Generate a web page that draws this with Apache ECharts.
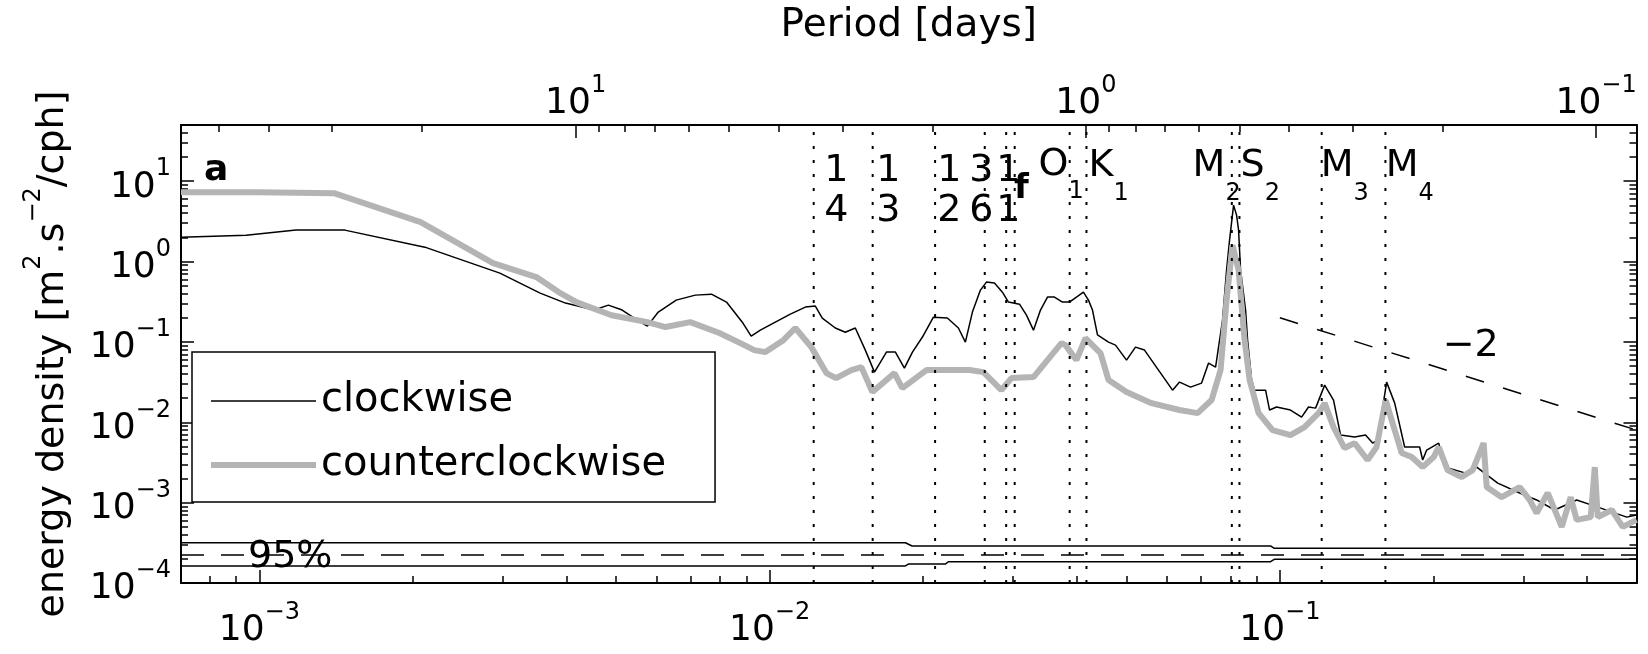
<!DOCTYPE html>
<html><head><meta charset="utf-8">
<script src="https://cdn.jsdelivr.net/npm/echarts@6/dist/echarts.min.js"></script>
<style>html,body{margin:0;padding:0;background:#fff}#c{width:1648px;height:654px}</style>
</head><body><div id="c"></div>
<script>
const FONT = 'DejaVu Sans';
// ---- axis ranges & tick values ----
const freqMin = 7.02e-4, freqMax = 0.5;          // cph
const energyMin = 1e-4, energyMax = 50;
const freqMajor = [1e-3, 1e-2, 1e-1];
const freqMinor = [8e-4, 9e-4, 2e-3, 3e-3, 4e-3, 5e-3, 6e-3, 7e-3, 8e-3, 9e-3,
  2e-2, 3e-2, 4e-2, 5e-2, 6e-2, 7e-2, 8e-2, 9e-2, 0.2, 0.3, 0.4];
const periodMajor = [10, 1, 0.1];                 // days
const periodMinor = [50, 40, 30, 20, 9, 8, 7, 6, 5, 4, 3, 2, 0.9, 0.8, 0.7, 0.6, 0.5, 0.4, 0.3, 0.2];
const energyMajor = [1e-4, 1e-3, 1e-2, 1e-1, 1, 10];
const energyMinor = [2e-4, 3e-4, 4e-4, 5e-4, 6e-4, 7e-4, 8e-4, 9e-4,
  2e-3, 3e-3, 4e-3, 5e-3, 6e-3, 7e-3, 8e-3, 9e-3,
  2e-2, 3e-2, 4e-2, 5e-2, 6e-2, 7e-2, 8e-2, 9e-2,
  0.2, 0.3, 0.4, 0.5, 0.6, 0.7, 0.8, 0.9, 2, 3, 4, 5, 6, 7, 8, 9, 20, 30, 40];

// ---- spectra ----
const cwFreq = [7.02e-4, 9.42e-4, 1.18e-3, 1.47e-3, 2.11e-3, 2.96e-3, 3.55e-3, 3.98e-3, 4.53e-3, 4.83e-3,
  5.14e-3, 5.58e-3, 5.76e-3, 6.05e-3, 6.56e-3, 7.15e-3, 7.69e-3, 8.23e-3, 8.84e-3, 9.20e-3,
  9.59e-3, 1.026e-2, 1.098e-2, 1.175e-2, 1.229e-2, 1.268e-2, 1.345e-2, 1.407e-2, 1.472e-2, 1.540e-2,
  1.605e-2, 1.649e-2, 1.694e-2, 1.764e-2, 1.837e-2, 1.905e-2, 1.993e-2, 2.094e-2, 2.230e-2, 2.344e-2,
  2.419e-2, 2.497e-2, 2.589e-2, 2.660e-2, 2.758e-2, 2.859e-2, 2.938e-2, 3.088e-2, 3.187e-2, 3.289e-2,
  3.395e-2, 3.504e-2, 3.616e-2, 3.749e-2, 3.869e-2, 3.993e-2, 4.121e-2, 4.216e-2, 4.293e-2, 4.391e-2,
  4.615e-2, 4.763e-2, 5.006e-2, 5.212e-2, 5.429e-2, 5.783e-2, 6.161e-2, 6.359e-2, 6.683e-2, 7.024e-2,
  7.249e-2, 7.482e-2, 7.721e-2, 7.862e-2, 7.969e-2, 8.115e-2, 8.226e-2, 8.300e-2, 8.375e-2, 8.567e-2,
  8.645e-2, 8.803e-2, 8.923e-2, 9.376e-2, 9.546e-2, 9.851e-2, 0.1049, 0.1103, 0.1138, 0.1175,
  0.1224, 0.1274, 0.1315, 0.1401, 0.1472, 0.1520, 0.1554, 0.1619, 0.1679, 0.1756,
  0.1879, 0.1905, 0.1940, 0.2048, 0.2104, 0.2313, 0.2431, 0.2673, 0.2951, 0.3186,
  0.3456, 0.3817, 0.4198, 0.4785, 0.5];
const cwEnergy = [2.01, 2.13, 2.46, 2.46, 1.51, 0.718, 0.404, 0.304, 0.249, 0.287,
  0.249, 0.176, 0.157, 0.235, 0.331, 0.382, 0.393, 0.313, 0.176, 0.118,
  0.140, 0.176, 0.222, 0.271, 0.279, 0.198, 0.149, 0.132, 0.149, 0.0791,
  0.0421, 0.0561, 0.0747, 0.0747, 0.0472, 0.0747, 0.115, 0.203, 0.198, 0.149,
  0.0995, 0.235, 0.441, 0.555, 0.539, 0.416, 0.313, 0.295, 0.215, 0.140,
  0.249, 0.361, 0.361, 0.313, 0.313, 0.361, 0.416, 0.331, 0.249, 0.122,
  0.0995, 0.0912, 0.0594, 0.0861, 0.0791, 0.0446, 0.0251, 0.0316, 0.0274, 0.0307,
  0.0545, 0.0486, 0.187, 0.782, 1.85, 5.03, 3.78, 2.46, 0.782, 0.249,
  0.105, 0.0335, 0.0251, 0.0251, 0.0142, 0.0155, 0.0142, 0.0116, 0.0155, 0.0150,
  0.0290, 0.0189, 0.00693, 0.00655, 0.00693, 0.00551, 0.00601, 0.0316, 0.0173, 0.00492,
  0.00492, 0.00339, 0.00451, 0.00551, 0.00277, 0.00233, 0.00277, 0.00175, 0.00132, 0.00108,
  0.00081, 0.00108, 0.00088, 0.00066, 0.00070];
const ccwFreq = [7.02e-4, 9.9e-4, 1.40e-3, 2.07e-3, 2.87e-3, 3.49e-3, 3.89e-3, 4.18e-3, 4.90e-3, 5.76e-3,
  6.25e-3, 6.99e-3, 7.97e-3, 8.76e-3, 9.33e-3, 9.81e-3, 1.064e-2, 1.123e-2, 1.207e-2, 1.292e-2,
  1.35e-2, 1.446e-2, 1.513e-2, 1.590e-2, 1.756e-2, 1.820e-2, 2.029e-2, 2.463e-2, 2.624e-2, 2.846e-2,
  2.978e-2, 3.289e-2, 3.732e-2, 3.800e-2, 3.993e-2, 4.159e-2, 4.451e-2, 4.615e-2, 5.006e-2, 5.603e-2,
  6.359e-2, 6.898e-2, 7.348e-2, 7.652e-2, 7.862e-2, 8.078e-2, 8.300e-2, 8.528e-2, 8.724e-2, 9.086e-2,
  9.676e-2, 0.1049, 0.1118, 0.1196, 0.1224, 0.1274, 0.1339, 0.1401, 0.1486, 0.1547,
  0.1612, 0.1679, 0.1733, 0.1813, 0.1905, 0.2002, 0.2048, 0.2132, 0.2272, 0.2387,
  0.2508, 0.2543, 0.2721, 0.2951, 0.3087, 0.3186, 0.3349, 0.3568, 0.3715, 0.3817,
  0.4067, 0.4142, 0.4198, 0.4472, 0.4699, 0.5];
const ccwEnergy = [7.3, 7.3, 7.1, 3.09, 0.955, 0.64, 0.404, 0.313, 0.215, 0.176,
  0.153, 0.176, 0.129, 0.0966, 0.0791, 0.0747, 0.105, 0.149, 0.0861, 0.0409,
  0.0355, 0.0446, 0.0486, 0.0238, 0.0409, 0.0266, 0.0446, 0.0446, 0.0421, 0.0251,
  0.0355, 0.0365, 0.0966, 0.0912, 0.0594, 0.111, 0.0726, 0.0335, 0.0238, 0.0173,
  0.0142, 0.0130, 0.0189, 0.0446, 0.331, 1.60, 0.782, 0.105, 0.0335, 0.0130,
  0.0080, 0.00693, 0.00871, 0.0134, 0.0173, 0.00871, 0.00478, 0.00551, 0.00339, 0.00492,
  0.0189, 0.0080, 0.00414, 0.00369, 0.00277, 0.00369, 0.00492, 0.00254, 0.00208, 0.00254,
  0.00551, 0.00156, 0.00117, 0.00156, 0.00108, 0.00074, 0.00132, 0.00050, 0.00117, 0.00061,
  0.00066, 0.00277, 0.00066, 0.00081, 0.00050, 0.00061];

// ---- 95% confidence band ----
const ciUpperFreq = [7.02e-4, 0.01845, 0.01902, 0.0959, 0.0975, 0.5];
const ciUpperEnergy = [3.17e-4, 3.17e-4, 2.89e-4, 2.89e-4, 2.70e-4, 2.70e-4];
const ciMidFreq = [7.02e-4, 0.5];
const ciMidEnergy = [2.23e-4, 2.23e-4];
const ciLowerFreq = [7.02e-4, 0.01845, 0.0187, 0.0221, 0.0224, 0.0959, 0.0975, 0.5];
const ciLowerEnergy = [1.63e-4, 1.63e-4, 1.72e-4, 1.72e-4, 1.84e-4, 1.84e-4, 1.97e-4, 1.97e-4];

// ---- -2 slope reference ----
const slopeFreq = [0.1, 0.5];
const slopeEnergy = [0.2, 0.008];

// ---- marked frequencies (cph) ----
const markerFreq = [0.0122, 0.01592, 0.0211, 0.0264, 0.02908, 0.03022,
  0.03873, 0.04178, 0.08051, 0.08333, 0.12077, 0.16102];

// ---- annotations ----
const tideLabels = [
  {main: 'O', sub: '1', freq: 0.03365, energy: 11.9},
  {main: 'K', sub: '1', freq: 0.04217, energy: 11.5},
  {main: 'M', sub: '2', freq: 0.06745, energy: 11.5},
  {main: 'S', sub: '2', freq: 0.08375, energy: 11.5},
  {main: 'M', sub: '3', freq: 0.1202, energy: 11.5},
  {main: 'M', sub: '4', freq: 0.1612, energy: 11.5}];
const fracLabels = [
  {top: '1', bottom: '4', freq: 0.01351, energy: 7.51},
  {top: '1', bottom: '3', freq: 0.01709, energy: 7.51},
  {top: '1', bottom: '2', freq: 0.02250, energy: 7.51},
  {top: '3', bottom: '6', freq: 0.02601, energy: 7.51},
  {top: '1', bottom: '1', freq: 0.02938, energy: 7.51}];
const inertialLabel = {text: 'f', freq: 0.03115, energy: 7.94};
const panelLabel = {text: 'a', freq: 7.79e-4, energy: 13.7};
const slopeLabel = {text: '\u22122', freq: 0.2366, energy: 0.0887};
const ciLabel = {text: '95%', freq: 1.149e-3, energy: 2.10e-4};

// ---------------------------------------------------------
const pairs = (xs, ys) => xs.map((x, i) => [x, ys[i]]);
const powRich = {
  b: {fontFamily: FONT, fontSize: 36, lineHeight: 48, verticalAlign: 'bottom', color: '#000'},
  s: {fontFamily: FONT, fontSize: 24, verticalAlign: 'top', color: '#000'}
};
function powLabel(v) {
  const e = Math.round(Math.log10(v));
  return '{b|10}{s|' + (e < 0 ? '\u2212' + (-e) : String(e)) + '}';
}
const frame = {show: true, onZero: false, lineStyle: {color: '#000', width: 2}};
const noLine = {show: false, onZero: false};
const periodMin = 1 / (24 * freqMax), periodMax = 1 / (24 * freqMin);

function axisBase(min, max, extra) {
  return Object.assign({
    type: 'log', logBase: 10, min: min, max: max,
    splitLine: {show: false}, minorTick: {show: false}, minorSplitLine: {show: false}
  }, extra);
}
function ticks(values, len) {
  return {show: true, inside: true, length: len, customValues: values, lineStyle: {color: '#000', width: 1.5}};
}

const xAxis = [
  axisBase(freqMin, freqMax, {position: 'bottom', axisLine: frame, axisTick: ticks(freqMajor, 13),
    axisLabel: {show: true, customValues: freqMajor, margin: 18, color: '#000', formatter: powLabel, rich: powRich}}),
  axisBase(freqMin, freqMax, {position: 'bottom', axisLine: noLine, axisTick: ticks(freqMinor, 7),
    axisLabel: {show: false}}),
  axisBase(periodMin, periodMax, {position: 'top', inverse: true, axisLine: frame, axisTick: ticks(periodMajor, 13),
    axisLabel: {show: true, customValues: periodMajor, margin: 3, color: '#000', formatter: powLabel, rich: powRich},
    name: 'Period [days]', nameLocation: 'middle', nameGap: 80,
    nameTextStyle: {fontFamily: FONT, fontSize: 39, color: '#000'}}),
  axisBase(periodMin, periodMax, {position: 'top', inverse: true, axisLine: noLine, axisTick: ticks(periodMinor, 7),
    axisLabel: {show: false}})
];
const yAxis = [
  axisBase(energyMin, energyMax, {position: 'left', axisLine: frame, axisTick: ticks(energyMajor, 13),
    axisLabel: {show: true, customValues: energyMajor, margin: 10, color: '#000', formatter: powLabel, rich: powRich},
    name: '{t|energy density [m}{u|2}{t|.s}{u|\u22122}{t|/cph]}', nameLocation: 'middle', nameGap: 109,
    nameTextStyle: {color: '#000', rich: {
      t: {fontFamily: FONT, fontSize: 38, lineHeight: 50, verticalAlign: 'bottom', color: '#000'},
      u: {fontFamily: FONT, fontSize: 24, verticalAlign: 'top', color: '#000'}}}}),
  axisBase(energyMin, energyMax, {position: 'left', axisLine: noLine, axisTick: ticks(energyMinor, 7),
    axisLabel: {show: false}}),
  axisBase(energyMin, energyMax, {position: 'right', axisLine: frame, axisTick: ticks(energyMajor, 13),
    axisLabel: {show: false}}),
  axisBase(energyMin, energyMax, {position: 'right', axisLine: noLine, axisTick: ticks(energyMinor, 7),
    axisLabel: {show: false}})
];

const blackText = {color: '#000', opacity: 1, textBorderWidth: 0, textShadowBlur: 0};
const thin = {color: '#000', width: 1.5};
const markerSeries = markerFreq.map(f => ({
  type: 'line', name: 'marker', data: [[f, energyMin], [f, energyMax]], symbol: 'none', silent: true, z: 6,
  lineStyle: {color: '#000', width: 2, type: [3, 11]}
}));
const series = [
  {type: 'line', name: 'ci-upper', data: pairs(ciUpperFreq, ciUpperEnergy), symbol: 'none', lineStyle: thin, silent: true, z: 2},
  {type: 'line', name: 'ci-mid', data: pairs(ciMidFreq, ciMidEnergy), symbol: 'none',
    lineStyle: {color: '#000', width: 1.5, type: [23, 17]}, silent: true, z: 2},
  {type: 'line', name: 'ci-lower', data: pairs(ciLowerFreq, ciLowerEnergy), symbol: 'none', lineStyle: thin, silent: true, z: 2},
  {type: 'line', name: 'clockwise', data: pairs(cwFreq, cwEnergy), symbol: 'none',
    lineStyle: {color: '#000', width: 1.5}, itemStyle: {color: '#000'}, z: 3},
  {type: 'line', name: 'counterclockwise', data: pairs(ccwFreq, ccwEnergy), symbol: 'none',
    lineStyle: {color: '#b4b4b4', width: 6}, itemStyle: {color: '#b4b4b4'}, z: 4},
  {type: 'line', name: 'slope', data: pairs(slopeFreq, slopeEnergy), symbol: 'none',
    lineStyle: {color: '#000', width: 1.5, type: [19, 20]}, silent: true, z: 5}
].concat(markerSeries, [
  {type: 'scatter', name: 'annotations', symbolSize: 0, silent: true, z: 7,
    itemStyle: {opacity: 1, color: '#000'},
    data: [].concat(
      tideLabels.map(t => ({value: [t.freq, t.energy], label: Object.assign({show: true, position: 'right', distance: 0,
        formatter: '{m|' + t.main + '}{u|' + t.sub + '}',
        rich: {m: {fontFamily: FONT, fontSize: 38, lineHeight: 58, verticalAlign: 'top', color: '#000'},
               u: {fontFamily: FONT, fontSize: 24, verticalAlign: 'bottom', color: '#000'}}}, blackText)})),
      fracLabels.map(t => ({value: [t.freq, t.energy], label: Object.assign({show: true, position: 'inside',
        formatter: '{n|' + t.top + '}\n{n|' + t.bottom + '}',
        rich: {n: {fontFamily: FONT, fontSize: 38, lineHeight: 40, color: '#000'}}}, blackText)})),
      [{value: [inertialLabel.freq, inertialLabel.energy], label: Object.assign({show: true, position: 'inside',
        formatter: inertialLabel.text, fontFamily: FONT, fontSize: 34, fontWeight: 'bold'}, blackText)},
       {value: [panelLabel.freq, panelLabel.energy], label: Object.assign({show: true, position: 'right', distance: 0,
        formatter: panelLabel.text, fontFamily: FONT, fontSize: 36, fontWeight: 'bold'}, blackText)},
       {value: [slopeLabel.freq, slopeLabel.energy], label: Object.assign({show: true, position: 'inside',
        formatter: slopeLabel.text, fontFamily: FONT, fontSize: 38}, blackText)},
       {value: [ciLabel.freq, ciLabel.energy], label: Object.assign({show: true, position: 'inside',
        formatter: ciLabel.text, fontFamily: FONT, fontSize: 38}, blackText)}]
    )}
]);

const chart = echarts.init(document.getElementById('c'), null, {renderer: 'canvas', width: 1648, height: 654});
chart.setOption({
  animation: false,
  backgroundColor: '#fff',
  grid: {left: 181, right: 11.5, top: 125, bottom: 71, containLabel: false},
  legend: {
    show: true, left: 192, top: 352, orient: 'vertical', selectedMode: false, z: 10,
    itemWidth: 105, itemHeight: 14, itemGap: 16, padding: [25, 49, 13, 19],
    borderColor: '#000', borderWidth: 1.5, backgroundColor: '#fff',
    textStyle: {fontFamily: FONT, fontSize: 40, lineHeight: 48, color: '#000'},
    data: [
      {name: 'clockwise', icon: 'path://M0,0L105,0L105,1.5L0,1.5Z', itemStyle: {color: '#000'}},
      {name: 'counterclockwise', icon: 'path://M0,0L105,0L105,6L0,6Z', itemStyle: {color: '#b4b4b4'}}
    ]
  },
  xAxis: xAxis,
  yAxis: yAxis,
  series: series
});
</script></body></html>
